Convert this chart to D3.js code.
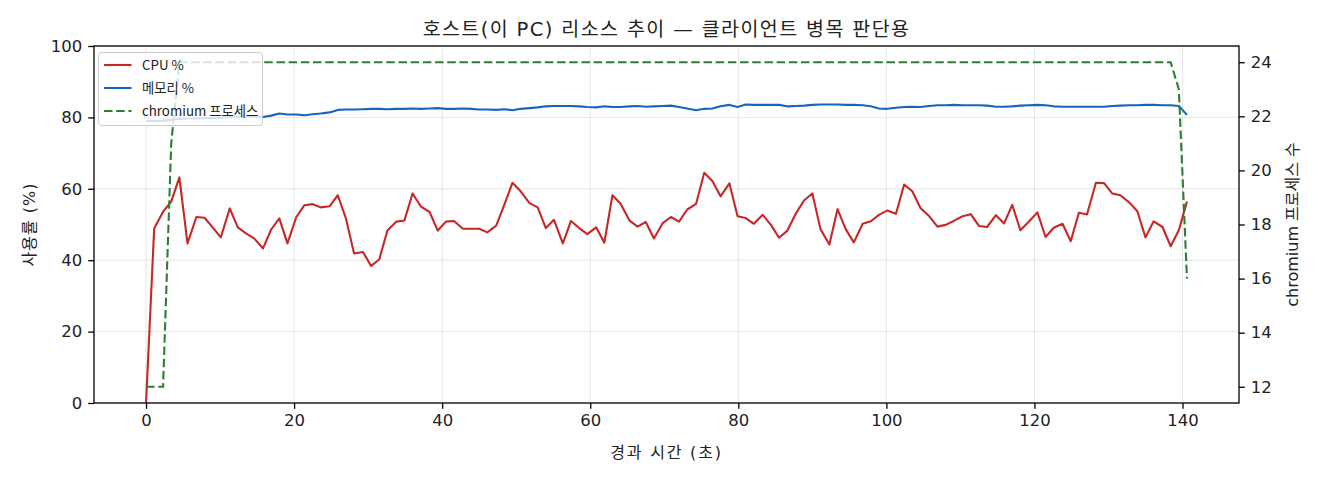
<!DOCTYPE html>
<html>
<head>
<meta charset="utf-8">
<script src="https://cdn.jsdelivr.net/npm/d3@7"></script>
<style>
  html, body { margin: 0; padding: 0; background: #fff; }
  svg { display: block; font-family: "DejaVu Sans", "Noto Sans CJK KR", sans-serif; }
</style>
</head>
<body>
<div id="chart"></div>
<script>
// elapsed seconds per sample
const times = [
  0.0, 1.1, 2.3, 3.4, 4.5, 5.6, 6.8, 7.9, 9.0, 10.1,
  11.3, 12.4, 13.5, 14.6, 15.8, 16.9, 18.0, 19.1, 20.3, 21.4,
  22.5, 23.6, 24.8, 25.9, 27.0, 28.1, 29.3, 30.4, 31.5, 32.6,
  33.8, 34.9, 36.0, 37.1, 38.3, 39.4, 40.5, 41.6, 42.8, 43.9,
  45.0, 46.1, 47.3, 48.4, 49.5, 50.6, 51.8, 52.9, 54.0, 55.1,
  56.3, 57.4, 58.5, 59.6, 60.8, 61.9, 63.0, 64.1, 65.3, 66.4,
  67.5, 68.6, 69.8, 70.9, 72.0, 73.1, 74.3, 75.4, 76.5, 77.6,
  78.8, 79.9, 81.0, 82.1, 83.3, 84.4, 85.5, 86.6, 87.8, 88.9,
  90.0, 91.1, 92.3, 93.4, 94.5, 95.6, 96.8, 97.9, 99.0, 100.1,
  101.3, 102.4, 103.5, 104.6, 105.8, 106.9, 108.0, 109.1, 110.3, 111.4,
  112.5, 113.6, 114.8, 115.9, 117.0, 118.1, 119.3, 120.4, 121.5, 122.6,
  123.8, 124.9, 126.0, 127.1, 128.3, 129.4, 130.5, 131.6, 132.8, 133.9,
  135.0, 136.1, 137.3, 138.4, 139.5, 140.6
];

const cpuPct = [
  0.0, 48.9, 53.6, 56.4, 63.2, 44.7, 52.1, 51.9, 49.2, 46.4,
  54.5, 49.2, 47.5, 46.1, 43.3, 48.6, 51.7, 44.7, 52.1, 55.4,
  55.7, 54.8, 55.1, 58.2, 51.7, 41.9, 42.3, 38.4, 40.2, 48.3,
  50.8, 51.1, 58.7, 55.1, 53.5, 48.3, 50.8, 51.0, 48.8, 48.8,
  48.8, 47.8, 49.7, 55.6, 61.7, 59.3, 56.0, 54.8, 49.0, 51.3,
  44.7, 51.0, 49.0, 47.3, 49.2, 44.9, 58.2, 55.8, 51.1, 49.4,
  50.7, 46.1, 50.4, 52.1, 50.8, 54.2, 55.8, 64.5, 62.2, 57.9,
  61.5, 52.3, 51.8, 50.2, 52.7, 49.9, 46.3, 48.2, 53.2, 56.8,
  58.7, 48.7, 44.4, 54.3, 48.7, 45.0, 50.2, 50.9, 52.7, 53.9,
  53.0, 61.2, 59.3, 54.6, 52.3, 49.4, 49.9, 51.0, 52.3, 52.9,
  49.6, 49.3, 52.6, 50.3, 55.5, 48.4, 50.9, 53.4, 46.5, 49.1,
  50.2, 45.3, 53.3, 52.8, 61.7, 61.6, 58.7, 58.2, 56.2, 53.7,
  46.4, 50.9, 49.3, 43.9, 48.4, 56.4
];

const memPct = [
  79.0, 79.0, 79.1, 79.3, 79.6, 79.7, 79.7, 79.8, 79.8, 79.9,
  80.1, 80.2, 80.2, 80.2, 80.1, 80.5, 81.1, 80.8, 80.8, 80.6,
  80.9, 81.1, 81.4, 82.1, 82.2, 82.2, 82.3, 82.4, 82.4, 82.3,
  82.4, 82.4, 82.5, 82.4, 82.5, 82.6, 82.4, 82.4, 82.5, 82.4,
  82.2, 82.2, 82.1, 82.3, 82.0, 82.4, 82.6, 82.8, 83.1, 83.2,
  83.2, 83.2, 83.1, 82.9, 82.8, 83.1, 82.9, 82.9, 83.1, 83.2,
  83.0, 83.1, 83.2, 83.3, 82.9, 82.5, 82.0, 82.4, 82.5, 83.1,
  83.5, 82.9, 83.6, 83.5, 83.5, 83.5, 83.5, 83.1, 83.2, 83.3,
  83.5, 83.6, 83.6, 83.6, 83.5, 83.5, 83.4, 83.1, 82.5, 82.4,
  82.7, 82.9, 83.0, 82.9, 83.2, 83.4, 83.4, 83.5, 83.4, 83.4,
  83.4, 83.3, 83.0, 83.0, 83.1, 83.3, 83.4, 83.5, 83.4, 83.1,
  83.0, 83.0, 83.0, 83.0, 83.0, 83.0, 83.2, 83.3, 83.4, 83.4,
  83.5, 83.5, 83.4, 83.4, 83.2, 80.7
];

const chromiumProcs = [
  12, 12, 12, 21, 24, 24, 24, 24, 24, 24,
  24, 24, 24, 24, 24, 24, 24, 24, 24, 24,
  24, 24, 24, 24, 24, 24, 24, 24, 24, 24,
  24, 24, 24, 24, 24, 24, 24, 24, 24, 24,
  24, 24, 24, 24, 24, 24, 24, 24, 24, 24,
  24, 24, 24, 24, 24, 24, 24, 24, 24, 24,
  24, 24, 24, 24, 24, 24, 24, 24, 24, 24,
  24, 24, 24, 24, 24, 24, 24, 24, 24, 24,
  24, 24, 24, 24, 24, 24, 24, 24, 24, 24,
  24, 24, 24, 24, 24, 24, 24, 24, 24, 24,
  24, 24, 24, 24, 24, 24, 24, 24, 24, 24,
  24, 24, 24, 24, 24, 24, 24, 24, 24, 24,
  24, 24, 24, 24, 23, 16
];

const xTicks = [0, 20, 40, 60, 80, 100, 120, 140];
const yLeftTicks = [0, 20, 40, 60, 80, 100];
const yRightTicks = [12, 14, 16, 18, 20, 22, 24];
const seriesNames = ['CPU %', '메모리 %', 'chromium 프로세스'];

const width = 1320;
const height = 480;
const plot = { left: 94, right: 1239, top: 46, bottom: 403 };

const svg = d3.select('#chart')
  .append('svg')
  .attr('width', width)
  .attr('height', height);

// matplotlib-like 5% margins on x and on the right axis
const tSpan = d3.max(times) - d3.min(times);
const x = d3.scaleLinear()
  .domain([d3.min(times) - tSpan * 0.05, d3.max(times) + tSpan * 0.05])
  .range([plot.left, plot.right]);
const yL = d3.scaleLinear().domain([0, 100]).range([plot.bottom, plot.top]);
const pMin = d3.min(chromiumProcs), pMax = d3.max(chromiumProcs);
const yR = d3.scaleLinear()
  .domain([pMin - (pMax - pMin) * 0.05, pMax + (pMax - pMin) * 0.05])
  .range([plot.bottom, plot.top]);

// grid
const grid = svg.append('g').attr('stroke', '#b0b0b0').attr('stroke-opacity', 0.3).attr('stroke-width', 1);
grid.selectAll('.gx').data(xTicks).enter().append('line')
  .attr('x1', d => x(d)).attr('x2', d => x(d))
  .attr('y1', plot.top).attr('y2', plot.bottom);
grid.selectAll('.gy').data(yLeftTicks).enter().append('line')
  .attr('x1', plot.left).attr('x2', plot.right)
  .attr('y1', d => yL(d)).attr('y2', d => yL(d));

const idx = d3.range(times.length);
svg.append('clipPath').attr('id', 'clip').append('rect')
  .attr('x', plot.left).attr('y', plot.top)
  .attr('width', plot.right - plot.left).attr('height', plot.bottom - plot.top);

const cpuLine = d3.line().x(i => x(times[i])).y(i => yL(cpuPct[i]));
const memLine = d3.line().x(i => x(times[i])).y(i => yL(memPct[i]));
const procLine = d3.line().x(i => x(times[i])).y(i => yR(chromiumProcs[i]));

const marks = svg.append('g').attr('clip-path', 'url(#clip)');
marks.append('path').datum(idx)
  .attr('d', cpuLine).attr('fill', 'none')
  .attr('stroke', '#c62828').attr('stroke-width', 2.1).attr('stroke-linejoin', 'round');
marks.append('path').datum(idx)
  .attr('d', memLine).attr('fill', 'none')
  .attr('stroke', '#1565c0').attr('stroke-width', 2.1).attr('stroke-linejoin', 'round');

// legend (belongs to left axes, drawn under the twin axis line)
const legend = svg.append('g').attr('transform', 'translate(98.5,52.5)');
legend.append('rect')
  .attr('width', 164).attr('height', 73).attr('rx', 3)
  .attr('fill', '#fff').attr('fill-opacity', 0.8)
  .attr('stroke', '#cccccc').attr('stroke-width', 1);
const legendStyles = [
  { color: '#c62828', dash: null },
  { color: '#1565c0', dash: null },
  { color: '#2e7d32', dash: '8.5,3.7' }
];
seriesNames.forEach((name, i) => {
  const gy = 12.5 + i * 23;
  legend.append('line')
    .attr('x1', 5.5).attr('x2', 33).attr('y1', gy).attr('y2', gy)
    .attr('stroke', legendStyles[i].color).attr('stroke-width', 2.1)
    .attr('stroke-dasharray', legendStyles[i].dash);
  legend.append('text')
    .attr('x', 43.5).attr('y', gy).attr('dy', '0.35em')
    .attr('font-family', '"Noto Sans CJK KR", sans-serif')
    .attr('font-size', 13.3).attr('fill', '#222')
    .text(name);
});

marks.append('path').datum(idx)
  .attr('d', procLine).attr('fill', 'none')
  .attr('stroke', '#2e7d32').attr('stroke-width', 2.1)
  .attr('stroke-dasharray', '8.5,3.7');

// axes
const xAxis = svg.append('g')
  .attr('transform', `translate(0,${plot.bottom})`)
  .call(d3.axisBottom(x).tickValues(xTicks).tickSize(5.8).tickPadding(5).tickSizeOuter(0));
const yAxisL = svg.append('g')
  .attr('transform', `translate(${plot.left},0)`)
  .call(d3.axisLeft(yL).tickValues(yLeftTicks).tickSize(5.8).tickPadding(6).tickSizeOuter(0));
const yAxisR = svg.append('g')
  .attr('transform', `translate(${plot.right},0)`)
  .call(d3.axisRight(yR).tickValues(yRightTicks).tickSize(5.8).tickPadding(6).tickSizeOuter(0));

[xAxis, yAxisL, yAxisR].forEach(g => {
  g.select('.domain').remove();
  g.selectAll('.tick line').attr('stroke', '#000').attr('stroke-width', 1.3);
  g.selectAll('.tick text')
    .attr('font-family', '"DejaVu Sans", sans-serif')
    .attr('font-size', 16.5).attr('fill', '#222');
});

// spines
svg.append('rect')
  .attr('x', plot.left).attr('y', plot.top)
  .attr('width', plot.right - plot.left).attr('height', plot.bottom - plot.top)
  .attr('fill', 'none').attr('stroke', '#000').attr('stroke-width', 1.3);

// titles
svg.append('text')
  .attr('x', (plot.left + plot.right) / 2).attr('y', 36)
  .attr('text-anchor', 'middle').attr('font-size', 19.5).attr('fill', '#222')
  .attr('letter-spacing', 1.4)
  .text('호스트(이 PC) 리소스 추이 — 클라이언트 병목 판단용');

svg.append('text')
  .attr('x', (plot.left + plot.right) / 2).attr('y', 457.5)
  .attr('text-anchor', 'middle').attr('font-size', 16).attr('fill', '#222')
  .attr('letter-spacing', 1.8)
  .text('경과 시간 (초)');

svg.append('text')
  .attr('transform', `translate(35,${(plot.top + plot.bottom) / 2}) rotate(-90)`)
  .attr('text-anchor', 'middle').attr('font-size', 16).attr('fill', '#222')
  .attr('letter-spacing', 1)
  .text('사용률 (%)');

svg.append('text')
  .attr('transform', `translate(1298,${(plot.top + plot.bottom) / 2}) rotate(-90)`)
  .attr('text-anchor', 'middle').attr('font-size', 16).attr('fill', '#222')
  .text('chromium 프로세스 수');
</script>
</body>
</html>
